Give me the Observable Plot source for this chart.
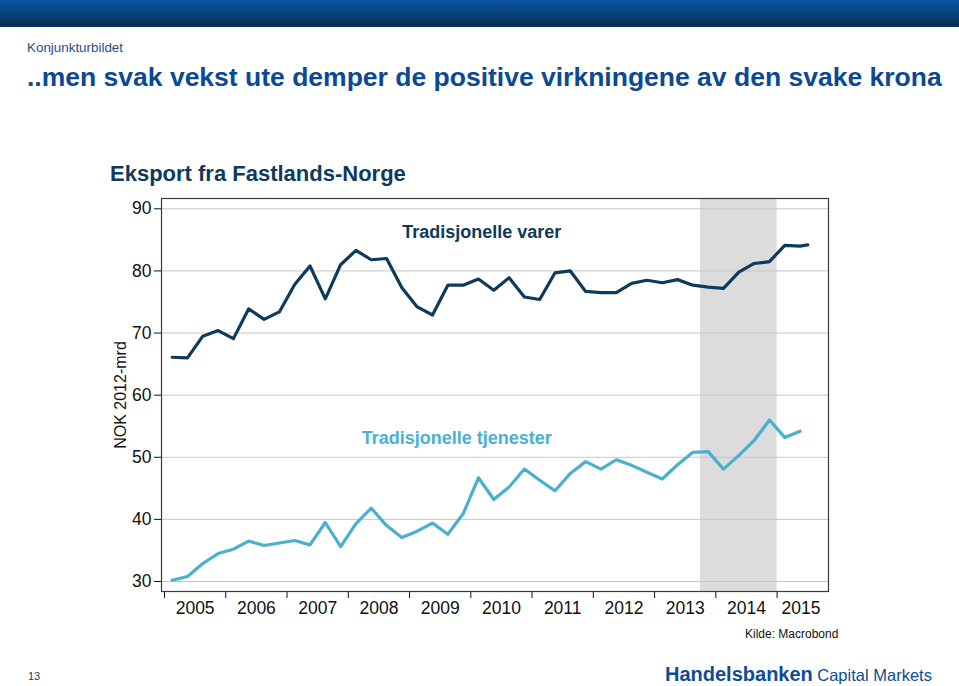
<!DOCTYPE html>
<html>
<head>
<meta charset="utf-8">
<script src="https://cdn.jsdelivr.net/npm/d3@7"></script>
<script src="https://cdn.jsdelivr.net/npm/@observablehq/plot@0.6"></script>
<style>
  html, body { margin: 0; padding: 0; background: #fff; }
  #page { position: relative; width: 959px; height: 686px; overflow: hidden; font-family: "Liberation Sans", Arial, sans-serif; }
  #band { position: absolute; left: 0; top: 0; width: 959px; height: 27px; background: linear-gradient(#0b55a6, #062c52); }
  #section { position: absolute; left: 27px; top: 40px; font-size: 13.4px; color: #1f4e8c; }
  #title { position: absolute; left: 27px; top: 62px; font-size: 24px; font-weight: bold; color: #0b4a92; white-space: nowrap; }
  #ctitle { position: absolute; left: 110px; top: 161px; font-size: 22px; font-weight: bold; color: #0e3a5c; white-space: nowrap; }
  #ylab { position: absolute; left: 121px; top: 395px; font-size: 16px; color: #111; white-space: nowrap; transform: translate(-50%, -50%) rotate(-90deg); }
  #chart { position: absolute; left: 0; top: 150px; }
  #source { position: absolute; left: 745px; top: 627px; font-size: 12px; color: #111; }
  #logo { position: absolute; left: 665px; top: 663px; white-space: nowrap; color: #0e4c95; }
  #logo b { font-size: 20px; }
  #logo span { font-size: 16.5px; }
  #pnum { position: absolute; left: 28px; top: 670px; font-size: 11px; color: #1f3a5a; }
</style>
</head>
<body>
<div id="page">
  <div id="band"></div>
  <div id="section">Konjunkturbildet</div>
  <div id="title">..men svak vekst ute demper de positive virkningene av den svake krona</div>
  <div id="ctitle">Eksport fra Fastlands-Norge</div>
  <div id="ylab">NOK 2012-mrd</div>
  <div id="chart"></div>
  <div id="source">Kilde: Macrobond</div>
  <div id="logo"><b>Handelsbanken</b> <span>Capital Markets</span></div>
  <div id="pnum">13</div>
</div>
<script>
// ---- data ----
const years = [2005, 2006, 2007, 2008, 2009, 2010, 2011, 2012, 2013, 2014, 2015];
const yTicks = [30, 40, 50, 60, 70, 80, 90];
// Quarterly values 2005 Q1 – 2015 Q2 (varer has one extra, partial period)
const varer = [66.1, 66.0, 69.5, 70.4, 69.1, 73.9, 72.2, 73.4, 77.8, 80.8, 75.5, 81.0,
               83.3, 81.8, 82.0, 77.3, 74.2, 72.9, 77.7, 77.7, 78.7, 76.9, 78.9, 75.8,
               75.4, 79.7, 80.0, 76.7, 76.5, 76.5, 78.0, 78.5, 78.1, 78.6, 77.7, 77.4,
               77.2, 79.8, 81.2, 81.5, 84.1, 84.0, 84.2];
const tjenester = [30.2, 30.8, 32.9, 34.5, 35.2, 36.5, 35.8, 36.2, 36.6, 35.9, 39.5, 35.6,
                   39.3, 41.8, 39.0, 37.1, 38.1, 39.4, 37.6, 40.9, 46.7, 43.2, 45.2, 48.1,
                   46.3, 44.6, 47.4, 49.3, 48.1, 49.6, 48.7, 47.6, 46.5, 48.8, 50.8, 50.9,
                   48.1, 50.3, 52.7, 56.0, 53.2, 54.2];
const varerLastDate = 2015.5;
const shade = [{start: 2013.75, end: 2015.0}];
const seriesLabels = [
  {x: 2010.18, y: 86.3, text: "Tradisjonelle varer", color: "#0e3a5c"},
  {x: 2009.77, y: 53.0, text: "Tradisjonelle tjenester", color: "#4bb0cf"}
];

// ---- build tables ----
const qDate = i => 2005 + Math.floor(i / 4) + ((i % 4) + 0.5) / 4;
const varerData = varer.map((v, i) => ({date: i < 42 ? qDate(i) : varerLastDate, value: v}));
const tjenData = tjenester.map((v, i) => ({date: qDate(i), value: v}));
const yearLabels = years.map(y => ({x: Math.min(y + 0.5, 2015.39), text: String(y)}));

const chart = Plot.plot({
  width: 959,
  height: 475,
  marginTop: 48,
  marginBottom: 34,
  marginLeft: 161,
  marginRight: 131,
  style: {fontFamily: "'Liberation Sans', Arial, sans-serif", fontSize: "17.5px", color: "#111", background: "transparent"},
  x: {domain: [2004.951, 2015.839], ticks: years, tickFormat: () => "", tickSize: 7, tickPadding: 0, label: null},
  y: {domain: [28.39, 91.66], ticks: yTicks, tickSize: 7, tickPadding: 3, label: null},
  marks: [
    Plot.rect(shade, {x1: "start", x2: "end", fill: "#dcdcdc"}),
    Plot.ruleY(yTicks, {stroke: "#c6c6c6", strokeWidth: 1}),
    Plot.line(varerData, {x: "date", y: "value", stroke: "#0e3a5c", strokeWidth: 3.2}),
    Plot.line(tjenData, {x: "date", y: "value", stroke: "#4bb0cf", strokeWidth: 3.2}),
    Plot.text(seriesLabels, {x: "x", y: "y", text: "text", fill: "color", fontSize: 18, fontWeight: "bold"}),
    Plot.text(yearLabels, {x: "x", text: "text", frameAnchor: "bottom", dy: 22, fontSize: 17.5, fill: "#111"}),
    Plot.frame({stroke: "#3a3a3a", strokeWidth: 1.2})
  ]
});
document.getElementById("chart").appendChild(chart);

// fit headline to reference width
const t = document.getElementById("title");
const target = 915;
const w = t.getBoundingClientRect().width;
t.style.fontSize = (24 * target / w).toFixed(2) + "px";
</script>
</body>
</html>
